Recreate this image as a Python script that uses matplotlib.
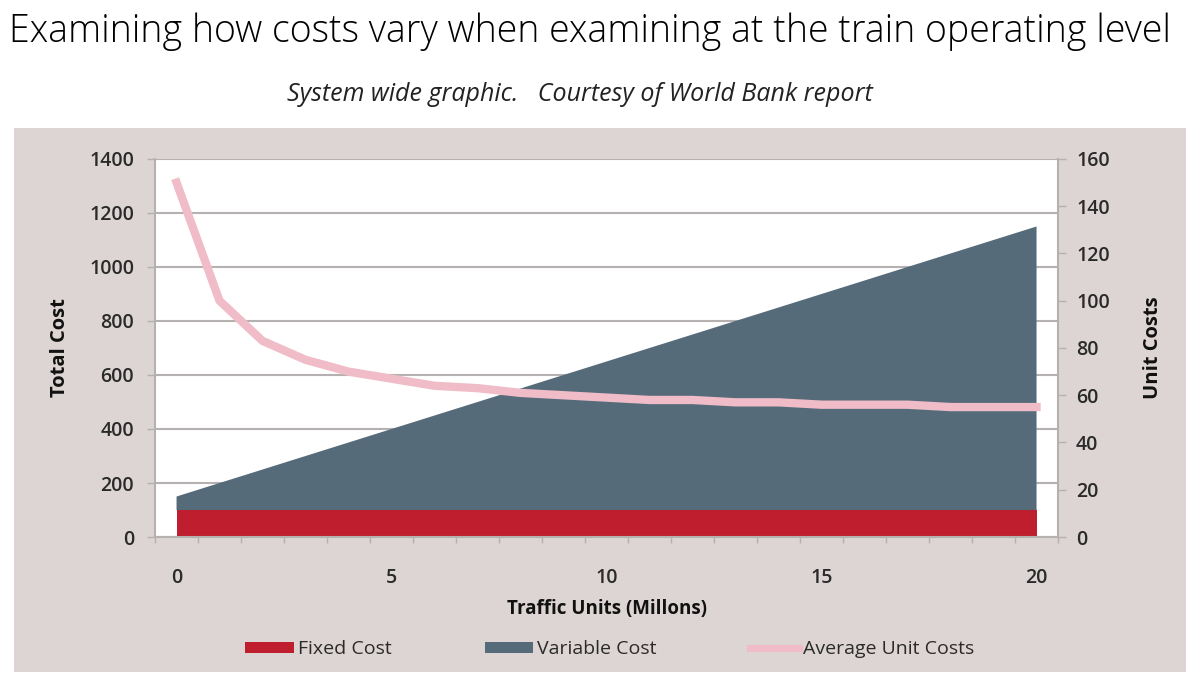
import matplotlib.pyplot as plt
from matplotlib.patches import Rectangle, Patch
from matplotlib.lines import Line2D

# Data
traffic = list(range(21))
fixed_cost = [100] * 21
variable_cost = [50, 100, 150, 200, 250, 300, 350, 400, 450, 500, 550,
                 600, 650, 700, 750, 800, 850, 900, 950, 1000, 1050]
avg_unit_cost = [150, 100, 83, 75, 70, 67, 64, 63, 61, 60, 59,
                 58, 58, 57, 57, 56, 56, 56, 55, 55, 55]
x_tick_labels = [0, 5, 10, 15, 20]
left_ticks = list(range(0, 1401, 200))
right_ticks = list(range(0, 161, 20))

panel_bg = "#ddd5d3"
red = "#be1e2d"
slate = "#566b7a"
pink = "#f0bcc8"
grid_col = "#b5b1b0"
txt_col = "#2a2a2a"

plt.rcParams["font.family"] = ["Open Sans", "DejaVu Sans"]

fig = plt.figure(figsize=(12, 6.82), dpi=100)
fig.patch.set_facecolor("white")

# grey chart panel behind the axes
fig.patches.append(Rectangle((0.0117, 0.0147), 0.9766, 0.7976, transform=fig.transFigure,
                             facecolor=panel_bg, edgecolor="none", zorder=-10))

fig.text(0.492, 0.954, "Examining how costs vary when examining at the train operating level",
         ha="center", va="center", fontsize=27, fontweight="light", color="black")
fig.text(0.483, 0.862, "System wide graphic.   Courtesy of World Bank report",
         ha="center", va="center", fontsize=18, style="italic", color="#222222")

ax = fig.add_axes([0.1292, 0.2126, 0.7525, 0.5543])
ax.set_facecolor("white")
ax.stackplot(traffic, fixed_cost, variable_cost, colors=[red, slate], zorder=2)
ax.set_xlim(-0.5, 20.5)
ax.set_ylim(0, 1400)
ax.set_yticks(left_ticks)
ax.set_xticks(x_tick_labels)
ax.set_xticks([i - 0.5 for i in range(22)], minor=True)
ax.tick_params(axis="x", which="major", length=0, pad=22, labelsize=14, labelcolor=txt_col)
ax.tick_params(axis="x", which="minor", length=4, color=grid_col, width=1)
ax.tick_params(axis="y", length=6, color=grid_col, width=1, labelsize=14, labelcolor=txt_col, pad=9)
for lbl in ax.get_xticklabels() + ax.get_yticklabels():
    lbl.set_fontweight("semibold")
ax.grid(axis="y", color=grid_col, linewidth=1.5, zorder=1)
ax.set_axisbelow(True)
for side in ["left", "bottom", "right"]:
    ax.spines[side].set_color(grid_col)
    ax.spines[side].set_linewidth(1.5)
ax.spines["top"].set_visible(False)
ax.set_ylabel("Total Cost", fontsize=14.5, fontweight="bold", color="#111111", labelpad=14)
ax.set_xlabel("Traffic Units (Millons)", fontsize=13.5, fontweight="bold", color="#111111", labelpad=8)

ax2 = ax.twinx()
ax2.plot(traffic, avg_unit_cost, color=pink, linewidth=6, solid_joinstyle="round", zorder=3)
ax2.set_ylim(0, 160)
ax2.set_yticks(right_ticks)
ax2.tick_params(axis="y", length=6, color=grid_col, width=1, labelsize=14, labelcolor=txt_col, pad=7)
for lbl in ax2.get_yticklabels():
    lbl.set_fontweight("semibold")
for side in ["left", "bottom", "right", "top"]:
    ax2.spines[side].set_visible(False)
ax2.set_ylabel("Unit Costs", fontsize=14.5, fontweight="bold", color="#111111", labelpad=24,
               rotation=90)

handles = [Patch(facecolor=red, edgecolor="none"),
           Patch(facecolor=slate, edgecolor="none"),
           Line2D([0], [0], color=pink, linewidth=5)]
fig.legend(handles, ["Fixed Cost", "Variable Cost", "Average Unit Costs"],
           loc="center", bbox_to_anchor=(0.508, 0.048), ncol=3, frameon=False,
           fontsize=14, handlelength=2.5, handleheight=0.5, handletextpad=0.2,
           columnspacing=4.8, labelcolor=txt_col)

fig.savefig("out.png", dpi=100, facecolor=fig.get_facecolor())
